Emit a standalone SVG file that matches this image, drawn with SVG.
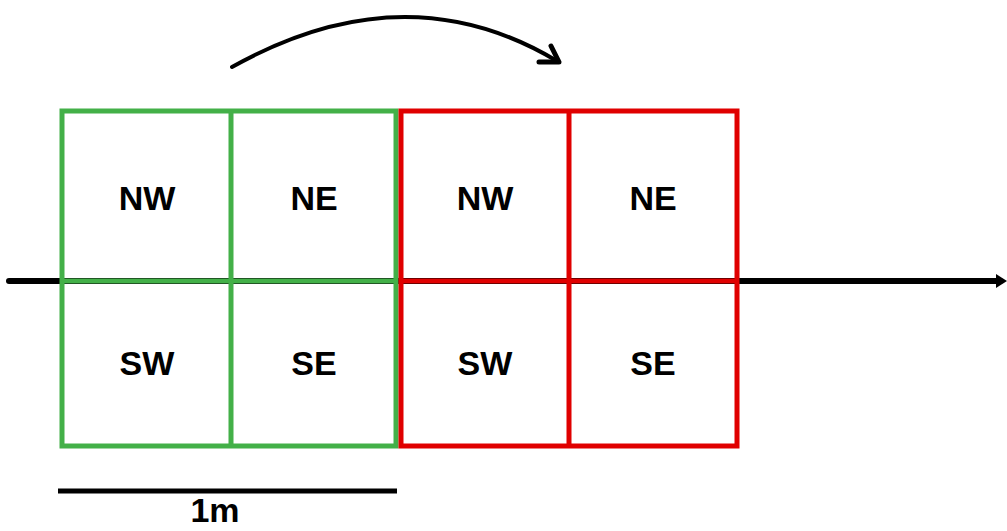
<svg xmlns="http://www.w3.org/2000/svg" width="1007" height="531" viewBox="0 0 1007 531">
<style>
.lbl{font-family:"Liberation Sans",Arial,sans-serif;font-weight:bold;font-size:34px;fill:#000;text-anchor:middle}
.g{fill:none;stroke:#43b048;stroke-width:5}
.r{fill:none;stroke:#e00000;stroke-width:5}
.k{fill:none;stroke:#000;stroke-linecap:round;stroke-linejoin:round}
</style>
<rect width="1007" height="531" fill="#fff"/>
<g id="connectors">
<line class="k" x1="9" y1="281" x2="1000" y2="281" stroke-width="6" stroke-linecap="butt"/>
<polygon points="996,274 1007,281 996,288" fill="#000"/>
<path class="k" d="M232,67 Q405,-30 557,61" stroke-width="4"/>
<polyline class="k" points="539,62 559,62 551,46" stroke-width="5"/>
<line x1="58" y1="491" x2="397" y2="491" stroke="#000" stroke-width="5"/>
</g>
<g id="green">
<rect class="g" x="62" y="111" width="334" height="335"/>
<line class="g" x1="231" y1="111" x2="231" y2="446"/>
<line class="g" x1="62" y1="281" x2="396" y2="281"/>
</g>
<g id="red">
<rect class="r" x="401" y="111" width="336" height="335"/>
<line class="r" x1="569" y1="111" x2="569" y2="446"/>
<line class="r" x1="401" y1="281" x2="737" y2="281"/>
</g>
<g id="g-nw"><text class="lbl" x="147" y="210">NW</text></g>
<g id="g-ne"><text class="lbl" x="314" y="210">NE</text></g>
<g id="g-sw"><text class="lbl" x="147" y="375">SW</text></g>
<g id="g-se"><text class="lbl" x="314" y="375">SE</text></g>
<g id="r-nw"><text class="lbl" x="485" y="210">NW</text></g>
<g id="r-ne"><text class="lbl" x="653" y="210">NE</text></g>
<g id="r-sw"><text class="lbl" x="485" y="375">SW</text></g>
<g id="r-se"><text class="lbl" x="653" y="375">SE</text></g>
<g id="scale"><text class="lbl" x="215" y="522">1m</text></g>
</svg>
